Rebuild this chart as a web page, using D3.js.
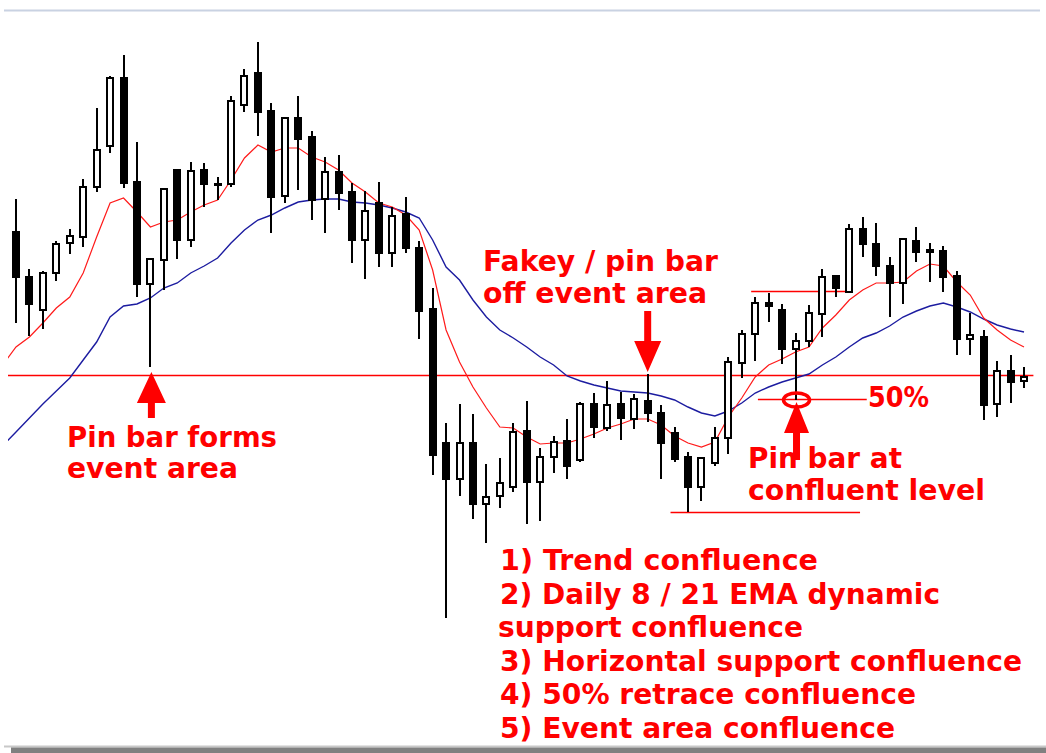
<!DOCTYPE html>
<html><head><meta charset="utf-8">
<script src="https://cdn.jsdelivr.net/npm/d3@7"></script>
<style>html,body{margin:0;padding:0;background:#fff;overflow:hidden}</style>
</head><body>
<svg id="chart" width="1046" height="753"></svg>
<script>
// ---- Daily candles (price) ----
const opens = [1.3468,1.3423,1.3390,1.3427,1.3457,1.3463,1.3513,1.3554,1.3622,1.3518,
1.3416,1.3440,1.3530,1.3460,1.3530,1.3516,1.3516,1.3595,1.3627,1.3589,
1.3504,1.3582,1.3563,1.3501,1.3528,1.3508,1.3460,1.3497,1.3447,1.3486,
1.3452,1.3391,1.3257,1.3221,1.3257,1.3196,1.3204,1.3213,1.3269,1.3218,
1.3243,1.3259,1.3240,1.3296,1.3272,1.3296,1.3281,1.3299,1.3287,1.3267,
1.3243,1.3213,1.3237,1.3262,1.3337,1.3366,1.3397,1.3390,1.3351,1.3359,
1.3386,1.3424,1.3408,1.3471,1.3456,1.3434,1.3417,1.3459,1.3450,1.3449,
1.3424,1.3361,1.3363,1.3296,1.3329,1.3319];
const highs = [1.3501,1.3431,1.3429,1.3459,1.3471,1.3521,1.3592,1.3624,1.3645,1.3558,
1.3441,1.3511,1.3530,1.3538,1.3537,1.3523,1.3604,1.3631,1.3658,1.3597,
1.3582,1.3604,1.3569,1.3543,1.3545,1.3517,1.3509,1.3518,1.3493,1.3503,
1.3459,1.3412,1.3277,1.3296,1.3286,1.3236,1.3242,1.3277,1.3299,1.3252,
1.3264,1.3281,1.3298,1.3307,1.3319,1.3308,1.3306,1.3326,1.3295,1.3273,
1.3248,1.3243,1.3273,1.3343,1.3370,1.3403,1.3407,1.3396,1.3367,1.3395,
1.3431,1.3425,1.3476,1.3483,1.3477,1.3443,1.3461,1.3473,1.3457,1.3454,
1.3429,1.3387,1.3370,1.3339,1.3345,1.3333];
const lows = [1.3377,1.3364,1.3371,1.3419,1.3446,1.3453,1.3508,1.3547,1.3512,1.3403,
1.3333,1.3410,1.3441,1.3453,1.3493,1.3500,1.3513,1.3588,1.3564,1.3467,
1.3497,1.3510,1.3480,1.3467,1.3490,1.3437,1.3421,1.3433,1.3433,1.3447,
1.3361,1.3225,1.3082,1.3204,1.3181,1.3157,1.3192,1.3208,1.3176,1.3179,
1.3227,1.3221,1.3238,1.3262,1.3269,1.3260,1.3271,1.3278,1.3221,1.3238,
1.3188,1.3199,1.3234,1.3246,1.3322,1.3339,1.3378,1.3336,1.3300,1.3353,
1.3363,1.3403,1.3407,1.3443,1.3424,1.3383,1.3396,1.3438,1.3418,1.3408,
1.3345,1.3345,1.3280,1.3283,1.3297,1.3312];
const closes = [1.3423,1.3396,1.3427,1.3456,1.3464,1.3513,1.3550,1.3622,1.3517,1.3416,
1.3441,1.3511,1.3460,1.3529,1.3516,1.3515,1.3599,1.3624,1.3588,1.3503,
1.3582,1.3561,1.3500,1.3528,1.3507,1.3460,1.3489,1.3447,1.3484,1.3452,
1.3389,1.3245,1.3221,1.3257,1.3196,1.3203,1.3217,1.3268,1.3218,1.3243,
1.3258,1.3234,1.3296,1.3273,1.3295,1.3282,1.3301,1.3287,1.3257,1.3241,
1.3213,1.3242,1.3262,1.3338,1.3366,1.3397,1.3394,1.3351,1.3359,1.3387,
1.3423,1.3412,1.3471,1.3456,1.3434,1.3417,1.3461,1.3448,1.3448,1.3423,
1.3361,1.3365,1.3295,1.3329,1.3318,1.3323];
// ---- Moving averages (first value = bar before the visible window) ----
const ema8 = [1.3335,1.3353,1.3363,1.3377,1.3392,1.3403,1.3427,1.3463,1.3497,1.3502,1.3488,
1.3473,1.3478,1.3480,1.3488,1.3495,1.3500,1.3520,1.3542,1.3555,1.3548,
1.3552,1.3552,1.3543,1.3538,1.3530,1.3517,1.3508,1.3497,1.3493,1.3485,
1.3470,1.3430,1.3370,1.3338,1.3313,1.3292,1.3273,1.3272,1.3263,1.3256,
1.3257,1.3257,1.3261,1.3266,1.3272,1.3276,1.3281,1.3281,1.3275,1.3264,
1.3257,1.3253,1.3258,1.3283,1.3302,1.3323,1.3335,1.3341,1.3348,1.3353,
1.3372,1.3385,1.3400,1.3410,1.3417,1.3417,1.3418,1.3429,1.3436,1.3434,
1.3418,1.3405,1.3382,1.3370,1.3360,1.3353];
const ema21 = [1.3254,1.3268,1.3282,1.3296,1.3309,1.3322,1.3340,1.3358,1.3383,1.3394,1.3396,
1.3402,1.3412,1.3417,1.3427,1.3434,1.3442,1.3457,1.3470,1.3480,1.3485,
1.3492,1.3498,1.3500,1.3501,1.3501,1.3498,1.3497,1.3495,1.3492,1.3488,
1.3482,1.3460,1.3433,1.3420,1.3400,1.3383,1.3370,1.3362,1.3353,1.3343,
1.3335,1.3324,1.3319,1.3315,1.3312,1.3309,1.3308,1.3307,1.3304,1.3300,
1.3293,1.3287,1.3284,1.3289,1.3297,1.3307,1.3313,1.3318,1.3322,1.3326,
1.3335,1.3343,1.3353,1.3362,1.3367,1.3374,1.3383,1.3389,1.3394,1.3397,
1.3393,1.3388,1.3381,1.3375,1.3371,1.3368];
// ---- Levels ----
const eventLevel = 1.3325;      // pin bar event area
const resistLevel = 1.3409;     // swing high line
const supportLevel = 1.3188;    // swing low line
const fiftyLevel = 1.3301;      // 50% retrace
const pinBarIdx = 10, fakeyIdx = 47, confluentIdx = 58;
const listLines = ["1) Trend confluence","2) Daily 8 / 21 EMA dynamic","support confluence",
  "3) Horizontal support confluence","4) 50% retrace confluence","5) Event area confluence"];

const svg = d3.select("#chart");
const x = d3.scaleLinear().domain([0, opens.length - 1]).range([16, 1024]);
const y = d3.scaleLinear().domain([1.3000, 1.3700]).range([700, 0]);

// frame
svg.append("rect").attr("x",4).attr("y",9.5).attr("width",1036).attr("height",2).attr("fill","#c9d2e2");
svg.append("rect").attr("x",4).attr("y",745.5).attr("width",1042).attr("height",2).attr("fill","#c8c8c8");
svg.append("rect").attr("x",11).attr("y",747.5).attr("width",1035).attr("height",6).attr("fill","#808080");

svg.append("defs").append("clipPath").attr("id","plot").append("rect")
  .attr("x",8).attr("y",12).attr("width",1030).attr("height",733);
const g = svg.append("g").attr("clip-path","url(#plot)");

// horizontal levels
const hl = [
  {v:eventLevel, a:-0.6, b:75.7},
  {v:resistLevel, a:54.7, b:62.2},
  {v:supportLevel, a:48.7, b:62.8},
  {v:fiftyLevel, a:55.2, b:63.3}
];
g.selectAll("line.lvl").data(hl).join("line").attr("class","lvl")
  .attr("x1",d=>x(d.a)).attr("x2",d=>x(d.b))
  .attr("y1",d=>Math.round(y(d.v))+0.5).attr("y2",d=>Math.round(y(d.v))+0.5)
  .attr("stroke","#ff0000").attr("stroke-width",1.4);

// EMAs
const line = d3.line().x((d,i)=>x(i-1)).y(d=>y(d));
g.append("path").attr("d",line(ema21)).attr("fill","none").attr("stroke","#1c1ca0").attr("stroke-width",1.4);
g.append("path").attr("d",line(ema8)).attr("fill","none").attr("stroke","#ff1a1a").attr("stroke-width",1.2);

// candles
const bars = opens.map((o,i)=>({i,o,h:highs[i],l:lows[i],c:closes[i]}));
const cx = d=>Math.round(x(d.i));
g.selectAll("line.wick").data(bars).join("line").attr("class","wick")
  .attr("x1",cx).attr("x2",cx)
  .attr("y1",d=>Math.round(y(d.h))).attr("y2",d=>Math.round(y(d.l)))
  .attr("stroke","#000").attr("stroke-width",2);
g.selectAll("rect.body").data(bars).join("rect").attr("class","body")
  .attr("x",d=>cx(d)-3).attr("width",6)
  .attr("y",d=>Math.round(y(Math.max(d.o,d.c))))
  .attr("height",d=>Math.max(0,Math.round(y(Math.min(d.o,d.c)))-Math.round(y(Math.max(d.o,d.c)))))
  .attr("fill",d=>d.c>=d.o?"#fff":"#000")
  .attr("stroke","#000").attr("stroke-width",2);

// annotations
const red = "#ff0000";
const ann = svg.append("g");
function arrow(tx, ty, dir, hl, hh, sl, sh){
  const s = dir; // 1 = up (tip on top), -1 = down
  const pts = [[tx,ty],[tx+hh,ty+s*hl],[tx+sh,ty+s*hl],[tx+sh,ty+s*(hl+sl)],
               [tx-sh,ty+s*(hl+sl)],[tx-sh,ty+s*hl],[tx-hh,ty+s*hl]];
  ann.append("polygon").attr("points",pts.map(p=>p.join(",")).join(" ")).attr("fill",red);
}
arrow(x(pinBarIdx)+1, y(1.3328), 1, 31, 14.5, 15, 3.5);
arrow(x(fakeyIdx), y(1.3328), -1, 31, 13.5, 30, 3.5);
arrow(x(confluentIdx)+1, y(1.3298), 1, 31, 12.5, 27, 3.5);
ann.append("ellipse").attr("cx",x(confluentIdx)+1).attr("cy",y(fiftyLevel)+1)
  .attr("rx",13).attr("ry",7).attr("fill","none").attr("stroke",red).attr("stroke-width",3.5);

const texts = [
  {t:"Pin bar forms", x:67, y:447, w:210},
  {t:"event area", x:67, y:478, w:171},
  {t:"Fakey / pin bar", x:483, y:271, w:235},
  {t:"off event area", x:483, y:303, w:224},
  {t:"Pin bar at", x:748, y:468, w:154},
  {t:"confluent level", x:748, y:500, w:237},
  {t:"50%", x:868, y:407, w:61}
];
const listX = [500,500,498,500,500,500], listW = [318,440,305,522,416,395];
listLines.forEach((t,i)=>texts.push({t, x:listX[i], y:570+i*33.5, w:listW[i]}));
ann.selectAll("text").data(texts).join("text")
  .attr("x",d=>d.x).attr("y",d=>d.y)
  .attr("textLength",d=>d.w).attr("lengthAdjust","spacingAndGlyphs")
  .attr("font-family","'DejaVu Sans', Verdana, sans-serif").attr("font-weight","bold")
  .attr("font-size",29).attr("fill",red).text(d=>d.t);
</script>
</body></html>
